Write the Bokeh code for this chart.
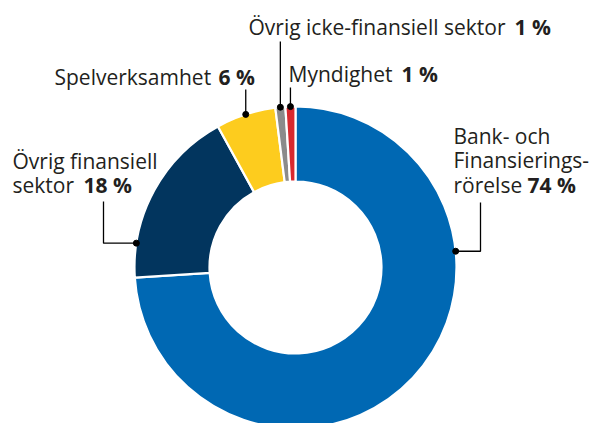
import math
from bokeh.plotting import figure
from bokeh.models import Range1d, ColumnDataSource
from bokeh.core.properties import value
from bokeh.embed import file_html
from bokeh.resources import INLINE

# ---- data ----
categories = ["Bank- och Finansieringsrörelse", "Övrig finansiell sektor",
              "Spelverksamhet", "Övrig icke-finansiell sektor", "Myndighet"]
shares = [74, 18, 6, 1, 1]
colors = ["#0068b3", "#02355e", "#fdcc1e", "#8b8b8b", "#d8292f"]

# label texts (regular part lines, bold part)
label_regular = [["Bank- och", "Finansierings-", "rörelse "],
                 ["Övrig finansiell", "sektor "],
                 ["Spelverksamhet "],
                 ["Övrig icke-finansiell sektor "],
                 ["Myndighet "]]
label_bold = ["74 %", "18 %", "6 %", "1 %", "1 %"]

# ---- layout (screen-like coordinates, y measured from top of window) ----
W, H = 590, 423
CX, CY = 295, 267
R_OUT, R_IN = 161, 86
FONT = "Open Sans"
FS = "21px"
TXT = "#231f20"

anchor_deg = [84.2, 278.7, None, None, None]  # None -> slice middle
leaders = [
    [(480, None), (480, 202)],
    [(103, None), (103, 201)],
    [(None, 89)],
    [(None, 41)],
    [(None, 87)],
]
TEXT_SHIFT = -7
text_x = [453, 12, 54, 248, 288]
text_y0 = [142, 167, 83, 33, 80]
line_gap = 24.5
bold_x = [527, 83, 218, 514, 401]

def fy(y):
    return H - y

p = figure(width=W, height=H, output_backend="svg", toolbar_location=None,
           x_range=Range1d(0, W), y_range=Range1d(0, H),
           min_border=0)
p.axis.visible = False
p.grid.visible = False
p.outline_line_color = None
p.background_fill_color = "white"
p.border_fill_color = "white"

total = float(sum(shares))
cum = 0.0
starts, ends, mids = [], [], []
for s in shares:
    a0 = cum / total
    cum += s
    a1 = cum / total
    starts.append(math.pi / 2 - 2 * math.pi * a1)
    ends.append(math.pi / 2 - 2 * math.pi * a0)
    mids.append(360 * (a0 + a1) / 2)

src = ColumnDataSource(dict(start=starts, end=ends, color=colors, cat=categories))
p.annular_wedge(x=CX, y=fy(CY), inner_radius=R_IN, outer_radius=R_OUT,
                start_angle="start", end_angle="end", color="color",
                line_color="white", line_width=2.2, source=src)

dx, dy = [], []
for i in range(len(shares)):
    ang = anchor_deg[i] if anchor_deg[i] is not None else mids[i]
    rad = math.radians(ang)
    px = CX + R_OUT * math.sin(rad)
    py = CY - R_OUT * math.cos(rad)
    xs, ys = [px], [py]
    cx_, cy_ = px, py
    for (lx, ly) in leaders[i]:
        nx = lx if lx is not None else cx_
        ny = ly if ly is not None else cy_
        xs.append(nx)
        ys.append(ny)
        cx_, cy_ = nx, ny
    p.line(xs, [fy(v) for v in ys], line_color="black", line_width=1.3)
    dx.append(px)
    dy.append(fy(py))
p.scatter(dx, dy, size=6, color="black")

for i in range(len(shares)):
    lines = label_regular[i]
    xs = [text_x[i]] * len(lines)
    ys = [fy(text_y0[i] + TEXT_SHIFT + k * line_gap) for k in range(len(lines))]
    p.text(x=xs, y=ys, text=lines, text_font=value(FONT), text_font_size=FS,
           text_color=TXT, text_baseline="alphabetic", text_align="left")
    p.text(x=[bold_x[i]], y=[ys[-1]], text=[label_bold[i]], text_font=value(FONT),
           text_font_size=FS, text_font_style="bold", text_color=TXT,
           text_baseline="alphabetic", text_align="left")

open("out.html", "w").write(file_html(p, INLINE))
